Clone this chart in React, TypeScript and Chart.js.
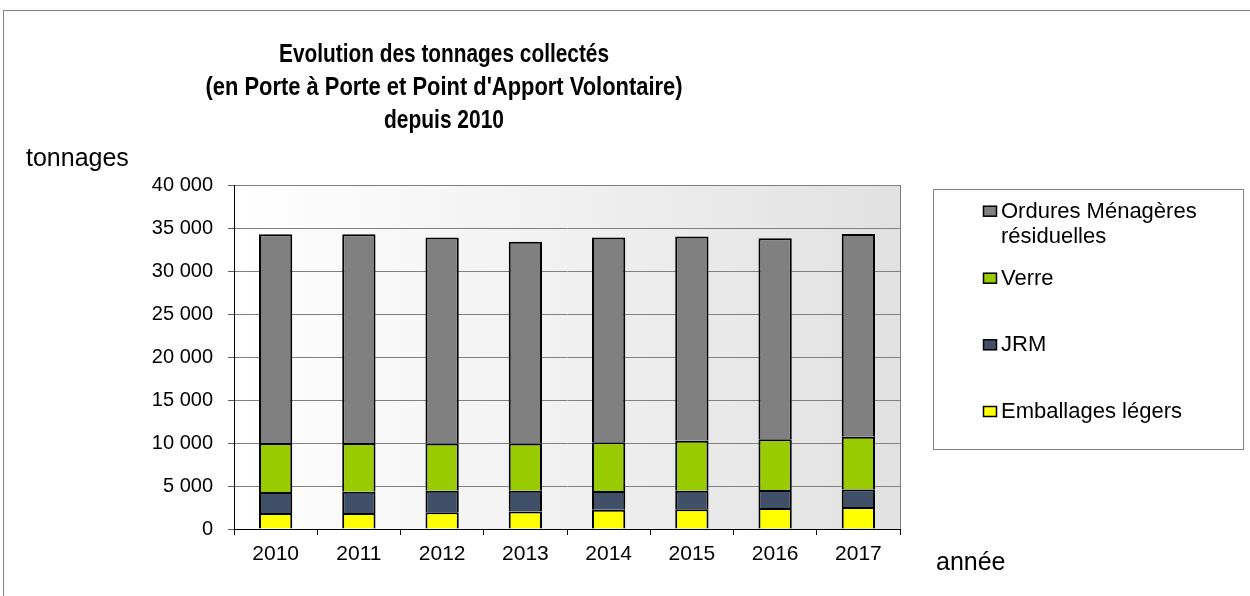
import React, { useEffect, useRef } from 'react';
import { Chart, registerables } from 'chart.js';

Chart.register(...registerables);

// ---- Data ----
const years = ['2010', '2011', '2012', '2013', '2014', '2015', '2016', '2017'];
const emballages = [1850, 1870, 1950, 2030, 2250, 2290, 2450, 2570];
const jrm = [2450, 2470, 2510, 2430, 2170, 2170, 2080, 2030];
const verre = [5700, 5660, 5490, 5490, 5680, 5810, 5900, 6130];
const omr = [24270, 24270, 23950, 23450, 23800, 23730, 23370, 23570];

const seriesNames = ['Ordures Ménagères résiduelles', 'Verre', 'JRM', 'Emballages légers'];
const legendLines = [['Ordures Ménagères', 'résiduelles'], ['Verre'], ['JRM'], ['Emballages légers']];
const titleLines = [
  'Evolution des tonnages collectés',
  "(en Porte à Porte et Point d'Apport Volontaire)",
  'depuis 2010',
];
const yAxisTitle = 'tonnages';
const xAxisTitle = 'année';
const yMin = 0;
const yMax = 40000;
const yStep = 5000;

const colors = {
  omr: '#808080',
  verre: '#99cc00',
  jrm: '#3f5068',
  emb: '#ffff00',
};

const FONT = '"Liberation Sans", Arial, Helvetica, sans-serif';

const fmt = (v: number) => String(v).replace(/\B(?=(\d{3})+(?!\d))/g, ' ');

const decorPlugin = {
  id: 'decor',
  beforeDraw(chart: any) {
    const { ctx, chartArea: a } = chart;
    ctx.save();
    ctx.fillStyle = '#ffffff';
    ctx.fillRect(0, 0, chart.width, chart.height);
    const g = ctx.createLinearGradient(a.left, 0, a.right, 0);
    g.addColorStop(0, '#ffffff');
    g.addColorStop(1, '#e1e1e1');
    ctx.fillStyle = g;
    ctx.fillRect(a.left, a.top, a.right - a.left, a.bottom - a.top);
    ctx.restore();
  },
  afterDraw(chart: any) {
    const { ctx, chartArea: a } = chart;
    ctx.save();
    // outer chart border
    ctx.strokeStyle = '#808080';
    ctx.lineWidth = 1;
    ctx.strokeRect(3.5, 10.5, chart.width + 10, chart.height + 10);
    // plot right border
    ctx.beginPath();
    ctx.moveTo(Math.round(a.right) + 0.5, a.top);
    ctx.lineTo(Math.round(a.right) + 0.5, a.bottom);
    ctx.stroke();

    // title (condensed bold)
    ctx.fillStyle = '#000';
    ctx.font = `bold 26px ${FONT}`;
    ctx.textBaseline = 'alphabetic';
    ctx.textAlign = 'center';
    const titleBase = [61.7, 95, 128.3];
    const titleWidths = [330, 477, 120];
    titleLines.forEach((t, i) => {
      const w = ctx.measureText(t).width;
      ctx.save();
      ctx.translate(444, titleBase[i]);
      ctx.scale(titleWidths[i] / w, 1);
      ctx.fillText(t, 0, 0);
      ctx.restore();
    });

    // axis titles
    ctx.font = `25px ${FONT}`;
    ctx.textAlign = 'left';
    ctx.fillText(yAxisTitle, 26, 166);
    ctx.fillText(xAxisTitle, 936, 570);

    // legend box
    ctx.strokeStyle = '#808080';
    ctx.lineWidth = 1;
    ctx.strokeRect(933.5, 189.5, 310, 260);
    const ds = chart.data.datasets;
    const order = [3, 2, 1, 0];
    const baselines = [[217.7, 243.3], [284.7], [351.3], [418]];
    ctx.font = `22px ${FONT}`;
    order.forEach((di, k) => {
      const d = ds[di];
      const b0 = baselines[k][0];
      ctx.fillStyle = d.backgroundColor;
      ctx.fillRect(983.5, b0 - 11.5, 13, 10);
      ctx.strokeStyle = '#000';
      ctx.lineWidth = 1.5;
      ctx.strokeRect(983.5, b0 - 11.5, 13, 10);
      ctx.fillStyle = '#000';
      legendLines[k].forEach((ln, j) => {
        ctx.fillText(ln, 1001, baselines[k][j]);
      });
    });
    ctx.restore();
  },
};

export default function App() {
  const ref = useRef<HTMLCanvasElement | null>(null);

  useEffect(() => {
    document.body.style.margin = '0';
    document.body.style.overflow = 'hidden';
    const canvas = ref.current;
    if (!canvas) return;
    const barCommon = {
      borderColor: '#000000',
      borderWidth: 2,
      barPercentage: 0.4,
      categoryPercentage: 1,
    };
    const chart = new Chart(canvas, {
      type: 'bar',
      data: {
        labels: years,
        datasets: [
          { label: seriesNames[3], data: emballages, backgroundColor: colors.emb, ...barCommon },
          { label: seriesNames[2], data: jrm, backgroundColor: colors.jrm, ...barCommon },
          { label: seriesNames[1], data: verre, backgroundColor: colors.verre, ...barCommon },
          { label: seriesNames[0], data: omr, backgroundColor: colors.omr, ...barCommon },
        ],
      },
      options: {
        responsive: false,
        animation: false,
        devicePixelRatio: 1,
        layout: { padding: { left: 0, right: 350, top: 185, bottom: 0 } },
        plugins: {
          legend: { display: false },
          title: { display: false },
          tooltip: { enabled: false },
        },
        scales: {
          x: {
            stacked: true,
            offset: true,
            grid: {
              offset: true,
              drawOnChartArea: false,
              drawTicks: true,
              tickLength: 6,
              color: '#000000',
            },
            border: { color: '#000000', width: 1 },
            ticks: {
              color: '#000000',
              font: { family: FONT, size: 21 },
              padding: 7,
              maxRotation: 0,
            },
            afterFit: (s: any) => {
              s.height = 67;
            },
          },
          y: {
            stacked: true,
            min: yMin,
            max: yMax,
            grid: {
              color: '#808080',
              tickColor: '#606060',
              tickLength: 6,
            },
            border: { color: '#000000', width: 1 },
            ticks: {
              stepSize: yStep,
              color: '#000000',
              font: { family: FONT, size: 20 },
              padding: 15,
              callback: (v: any) => fmt(Number(v)),
            },
            afterFit: (s: any) => {
              s.width = 234;
            },
          },
        },
      },
      plugins: [decorPlugin],
    } as any);
    return () => chart.destroy();
  }, []);

  return (
    <div style={{ width: 1250, height: 596 }}>
      <canvas ref={ref} width={1250} height={596} style={{ display: 'block' }} />
    </div>
  );
}
